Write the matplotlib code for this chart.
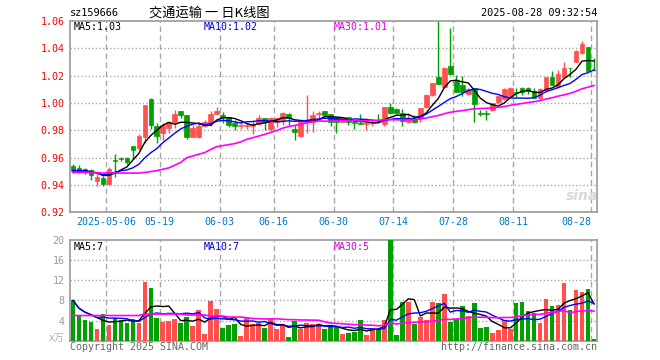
import numpy as np
import pandas as pd
import matplotlib
matplotlib.use("Agg")
import matplotlib.pyplot as plt

# ---------------- data ----------------
holidays = ["2025-05-01", "2025-05-02", "2025-05-05", "2025-06-02"]
dates = [d for d in pd.bdate_range("2025-04-23", "2025-08-28")
         if d.strftime("%Y-%m-%d") not in holidays]

open_ = [0.9539, 0.9524, 0.9515, 0.9510, 0.9430, 0.9450, 0.9407, 0.9580, 0.9595, 0.9600,
         0.9685, 0.9673, 0.9753, 1.0030, 0.9832, 0.9783, 0.9815, 0.9861, 0.9941, 0.9912,
         0.9754, 0.9754, 0.9832, 0.9851, 0.9920, 0.9912, 0.9898, 0.9856, 0.9832, 0.9832,
         0.9834, 0.9844, 0.9890, 0.9807, 0.9861, 0.9876, 0.9920, 0.9810, 0.9759, 0.9863,
         0.9863, 0.9922, 0.9941, 0.9920, 0.9895, 0.9863, 0.9895, 0.9863, 0.9852, 0.9849,
         0.9850, 0.9863, 0.9844, 0.9971, 0.9956, 0.9924, 0.9863, 0.9880, 0.9888, 0.9970,
         1.0058, 1.0192, 1.0114, 1.0270, 1.0161, 1.0131, 1.0063, 1.0107, 0.9924, 0.9924,
         0.9951, 1.0007, 1.0029, 1.0053, 1.0078, 1.0111, 1.0111, 1.0088, 1.0034, 1.0095,
         1.0192, 1.0119, 1.0192, 1.0258, 1.0302, 1.0363, 1.0412, 1.0241]
high = [0.9554, 0.9544, 0.9522, 0.9520, 0.9485, 0.9466, 0.9534, 0.9624, 0.9607, 0.9602,
        0.9685, 0.9773, 0.9985, 1.0037, 0.9851, 0.9851, 0.9871, 0.9950, 0.9941, 0.9912,
        0.9840, 0.9863, 0.9876, 0.9941, 0.9970, 0.9937, 0.9898, 0.9876, 0.9851, 0.9856,
        0.9868, 0.9912, 0.9890, 0.9900, 0.9890, 0.9932, 0.9929, 0.9839, 0.9868, 1.0059,
        0.9941, 0.9941, 0.9941, 0.9920, 0.9895, 0.9895, 0.9895, 0.9866, 0.9920, 0.9888,
        0.9876, 0.9920, 0.9971, 1.0002, 0.9966, 0.9956, 0.9920, 0.9912, 0.9966, 1.0063,
        1.0144, 1.0600, 1.0266, 1.0551, 1.0205, 1.0200, 1.0107, 1.0107, 0.9949, 0.9949,
        1.0002, 1.0053, 1.0107, 1.0119, 1.0111, 1.0119, 1.0119, 1.0111, 1.0111, 1.0192,
        1.0234, 1.0241, 1.0302, 1.0258, 1.0387, 1.0453, 1.0412, 1.0326]
low = [0.9485, 0.9485, 0.9480, 0.9440, 0.9395, 0.9395, 0.9400, 0.9456, 0.9576, 0.9554,
       0.9595, 0.9656, 0.9710, 0.9812, 0.9710, 0.9730, 0.9783, 0.9815, 0.9890, 0.9734,
       0.9750, 0.9746, 0.9822, 0.9832, 0.9920, 0.9856, 0.9822, 0.9802, 0.9807, 0.9807,
       0.9771, 0.9837, 0.9802, 0.9797, 0.9822, 0.9839, 0.9839, 0.9729, 0.9754, 0.9783,
       0.9790, 0.9876, 0.9898, 0.9832, 0.9783, 0.9860, 0.9839, 0.9812, 0.9849, 0.9802,
       0.9832, 0.9861, 0.9834, 0.9920, 0.9920, 0.9832, 0.9856, 0.9851, 0.9863, 0.9966,
       1.0053, 1.0139, 1.0107, 1.0205, 1.0078, 1.0053, 1.0058, 0.9863, 0.9905, 0.9873,
       0.9940, 0.9995, 1.0021, 1.0046, 1.0046, 1.0058, 1.0063, 1.0034, 1.0029, 1.0083,
       1.0131, 1.0107, 1.0185, 1.0192, 1.0297, 1.0356, 1.0233, 1.0233]
close = [0.9505, 0.9505, 0.9502, 0.9470, 0.9460, 0.9407, 0.9517, 0.9575, 0.9592, 0.9570,
         0.9659, 0.9759, 0.9985, 0.9840, 0.9761, 0.9839, 0.9861, 0.9920, 0.9915, 0.9754,
         0.9820, 0.9832, 0.9861, 0.9920, 0.9944, 0.9898, 0.9839, 0.9832, 0.9839, 0.9839,
         0.9841, 0.9890, 0.9861, 0.9893, 0.9890, 0.9924, 0.9888, 0.9790, 0.9868, 0.9876,
         0.9912, 0.9930, 0.9915, 0.9863, 0.9863, 0.9895, 0.9863, 0.9851, 0.9849, 0.9852,
         0.9861, 0.9861, 0.9971, 0.9929, 0.9929, 0.9868, 0.9888, 0.9863, 0.9961, 1.0058,
         1.0144, 1.0139, 1.0258, 1.0210, 1.0083, 1.0083, 1.0102, 0.9990, 0.9922, 0.9922,
         1.0002, 1.0050, 1.0102, 1.0111, 1.0075, 1.0083, 1.0088, 1.0034, 1.0102, 1.0192,
         1.0131, 1.0209, 1.0258, 1.0256, 1.0380, 1.0429, 1.0233, 1.0239]
volume = [8.0, 4.9, 4.1, 3.7, 2.3, 5.3, 3.1, 4.5, 4.1, 3.5,
          4.3, 3.5, 11.7, 10.5, 4.5, 3.7, 4.0, 4.3, 3.5, 4.7,
          2.9, 6.0, 1.3, 7.9, 6.3, 2.5, 3.1, 3.3, 1.0, 4.5,
          3.3, 3.5, 2.6, 4.3, 2.3, 3.3, 0.7, 4.0, 2.4, 3.5,
          3.3, 3.1, 2.3, 2.8, 2.8, 1.3, 1.5, 1.7, 4.1, 1.1,
          2.5, 2.3, 4.1, 21.0, 1.1, 7.7, 7.7, 3.3, 4.7, 4.1,
          7.7, 7.5, 9.3, 3.7, 4.3, 6.9, 4.9, 7.5, 2.5, 2.7,
          1.5, 2.1, 4.1, 2.3, 7.5, 7.7, 5.9, 5.5, 3.5, 8.3,
          6.9, 7.1, 11.5, 6.1, 10.1, 9.7, 10.3, 0.3]
# MA30 values of the first 29 sessions (history not shown)
price_ma30_head = [0.9492, 0.9492, 0.9492, 0.9492, 0.9490, 0.9487, 0.9487, 0.9487, 0.9487, 0.9487,
                   0.9487, 0.9487, 0.9492, 0.9498, 0.9505, 0.9515, 0.9525, 0.9545, 0.9565, 0.9600,
                   0.9612, 0.9625, 0.9637, 0.9660, 0.9680, 0.9688, 0.9695, 0.9703, 0.9715]
vol_ma30_head = [5.0, 5.0, 5.0, 5.0, 5.0, 5.0, 5.0, 5.0, 5.0, 5.0,
                 5.0, 5.0, 5.3, 5.3, 5.3, 5.3, 5.3, 5.3, 5.3, 5.1,
                 5.1, 5.1, 5.1, 4.9, 4.9, 4.9, 4.7, 4.7, 4.7]

tick_dates = ["2025-05-06", "2025-05-19", "2025-06-03", "2025-06-16", "2025-06-30",
              "2025-07-14", "2025-07-28", "2025-08-11", "2025-08-28"]
tick_labels = ["2025-05-06", "05-19", "06-03", "06-16", "06-30",
               "07-14", "07-28", "08-11", "08-28"]
price_ticks = [0.92, 0.94, 0.96, 0.98, 1.00, 1.02, 1.04, 1.06]
vol_ticks = [4, 8, 12, 16, 20]

# ---------------- derived ----------------
n = len(close)
x = np.arange(n)
c = pd.Series(close)
ma5 = c.rolling(5, min_periods=1).mean()
ma10 = c.rolling(10, min_periods=1).mean()
ma30 = c.rolling(30).mean()
ma30.iloc[:29] = price_ma30_head
v = pd.Series(volume)
vma5 = v.rolling(5, min_periods=1).mean()
vma10 = v.rolling(10, min_periods=1).mean()
vma30 = v.rolling(30).mean()
vma30.iloc[:29] = vol_ma30_head

date_str = [d.strftime("%Y-%m-%d") for d in dates]
tick_idx = [date_str.index(t) for t in tick_dates]

RED = "#ff5050"
GREEN = "#00a000"
GRID = "#a8a8a8"
FRAME = "#999999"
MONO = "DejaVu Sans Mono"
colors = [RED if close[i] >= open_[i] else GREEN for i in range(n)]

W, H = 660, 360
fig = plt.figure(figsize=(6.6, 3.6), dpi=100)
fig.patch.set_facecolor("white")


def fx(px):
    return px / W


def fy(py):
    return 1 - py / H


ax1 = fig.add_axes([fx(70), fy(212.3), fx(597) - fx(70), fy(21) - fy(212.3)])
ax2 = fig.add_axes([fx(70), fy(340.7), fx(597) - fx(70), fy(240) - fy(340.7)])

for ax in (ax1, ax2):
    ax.set_xlim(-0.5, n - 0.5)
    for s in ax.spines.values():
        s.set_color(FRAME)
        s.set_linewidth(1.2)
    for ti in tick_idx:
        ax.axvline(ti - 0.5, color=GRID, lw=1.0, ls=(0, (4, 2.5)), zorder=0)
    ax.tick_params(length=0)

# price grid
for p in price_ticks[1:-1]:
    ax1.axhline(p, color=GRID, lw=1.0, ls=(0, (1, 1.6)), zorder=0)

# candles
ax1.vlines(x, low, high, colors=colors, lw=1.0, zorder=2)
bottoms = [min(o, cc) for o, cc in zip(open_, close)]
heights = [max(abs(cc - o), 0.00015) for o, cc in zip(open_, close)]
ax1.bar(x, heights, bottom=bottoms, width=0.78, color=colors, edgecolor=colors,
        linewidth=0.5, zorder=3)
ax1.plot(x, ma5, color="black", lw=1.0, zorder=4)
ax1.plot(x, ma10, color="#0000ff", lw=1.0, zorder=4)
ax1.plot(x, ma30, color="#ff00ff", lw=1.2, zorder=4)

ax1.set_ylim(price_ticks[0], price_ticks[-1])
ax1.set_yticks(price_ticks)
ax1.set_yticklabels([f"{p:.2f}" for p in price_ticks], color="#ff0000",
                    fontsize=7.2, family=MONO)
ax1.tick_params(axis="y", pad=4)
ax1.set_xticks([ti - 0.5 for ti in tick_idx])
ax1.set_xticklabels(tick_labels, color="#0078c8", fontsize=7.2, family=MONO)
ax1.get_xticklabels()[-1].set_horizontalalignment("right")
ax1.tick_params(axis="x", pad=3.5)

# volume
for vt in vol_ticks[:-1]:
    ax2.axhline(vt, color=GRID, lw=1.0, ls=(0, (1, 1.6)), zorder=0)
ax2.bar(x, volume, width=0.78, color=colors, zorder=3)
ax2.plot(x, vma5, color="black", lw=1.0, zorder=4)
ax2.plot(x, vma10, color="#0000ff", lw=1.0, zorder=4)
ax2.plot(x, vma30, color="#ff00ff", lw=1.2, zorder=4)
ax2.set_ylim(0, 20)
ax2.set_yticks(vol_ticks)
ax2.set_yticklabels([str(t) for t in vol_ticks], color="#999999", fontsize=7.2, family=MONO)
ax2.tick_params(axis="y", pad=4)
ax2.set_xticks([])

# texts
fig.text(fx(70), fy(13.5), "sz159666", fontsize=7.4, family=MONO, va="center", ha="left")
fig.text(fx(149), fy(13.5), "交通运输 一 日K线图", fontsize=9.5,
         family=["Noto Sans CJK SC", "DejaVu Sans"], va="center", ha="left")
fig.text(fx(597), fy(13.5), "2025-08-28 09:32:54", fontsize=7.4, family=MONO,
         va="center", ha="right")

fig.text(fx(74), fy(26.5), f"MA5:{ma5.iloc[-1]:.2f}", fontsize=7.2, family=MONO,
         color="black", va="center")
fig.text(fx(204), fy(26.5), f"MA10:{ma10.iloc[-1]:.2f}", fontsize=7.2, family=MONO,
         color="#0000e0", va="center")
fig.text(fx(334), fy(26.5), f"MA30:{ma30.iloc[-1]:.2f}", fontsize=7.2, family=MONO,
         color="#e000e0", va="center")

fig.text(fx(74), fy(246.5), f"MA5:{int(vma5.iloc[-1])}", fontsize=7.2, family=MONO,
         color="black", va="center")
fig.text(fx(204), fy(246.5), f"MA10:{int(vma10.iloc[-1])}", fontsize=7.2, family=MONO,
         color="#0000e0", va="center")
fig.text(fx(334), fy(246.5), f"MA30:{int(vma30.iloc[-1])}", fontsize=7.2, family=MONO,
         color="#e000e0", va="center")

fig.text(fx(64), fy(338), "x万", fontsize=7, family=[MONO, "Noto Sans CJK SC"],
         color="#b0b0b0", va="center", ha="right")
fig.text(fx(70), fy(346.5), "Copyright 2025 SINA.COM", fontsize=7.2, family=MONO,
         color="#666666", va="center", ha="left")
fig.text(fx(597), fy(346.5), "http://finance.sina.com.cn", fontsize=7.2, family=MONO,
         color="#666666", va="center", ha="right")
fig.text(fx(582), fy(196), "sina", fontsize=10, style="italic", weight="bold",
         color="#d8d8d8", va="center", ha="center")

fig.savefig("out.png", dpi=100)
